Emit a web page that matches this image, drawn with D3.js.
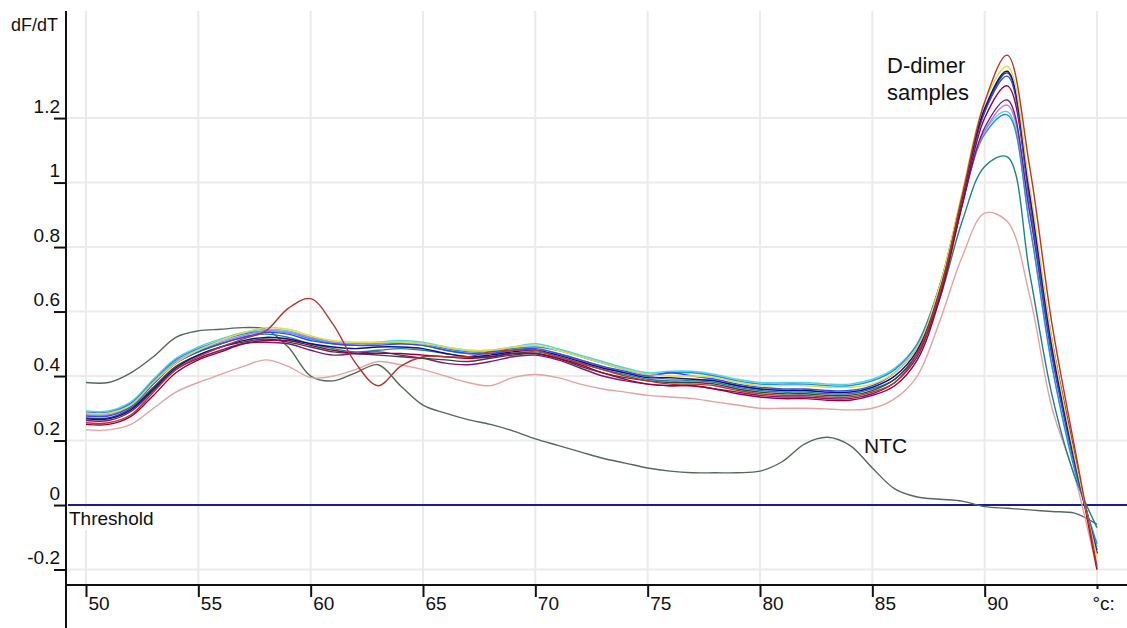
<!DOCTYPE html>
<html>
<head>
<meta charset="utf-8">
<script src="https://cdn.jsdelivr.net/npm/d3@7"></script>
<style>
  body { margin: 0; background: #fff; }
  svg { display: block; font-family: "Liberation Sans", Arial, sans-serif; }
</style>
</head>
<body>
<div id="holder"></div>
<script>
// temperatures (°C) and melt curve values dF/dT
var temps = [50,51,52,53,54,55,56,57,58,59,60,61,62,63,64,65,66,67,68,69,70,71,72,73,74,75,76,77,78,79,80,81,82,83,84,85,86,87,88,89,90,91,92,93,94,95];

var firebrick = [0.255,0.255,0.28,0.35,0.42, 0.46,0.49,0.515,0.54,0.61, 0.64,0.56,0.44,0.37,0.43, 0.46,0.46,0.46,0.475,0.48, 0.48,0.46,0.44,0.42,0.40, 0.385,0.375,0.375,0.37,0.355, 0.345,0.34,0.34,0.335,0.335, 0.35,0.38,0.47,0.66,0.96, 1.25,1.395,1.05,0.56,0.18,-0.19];
var yellow = [0.285,0.285,0.31,0.38,0.44, 0.48,0.51,0.535,0.55,0.545, 0.525,0.51,0.505,0.505,0.505, 0.50,0.49,0.48,0.48,0.49, 0.495,0.48,0.46,0.44,0.42, 0.405,0.40,0.40,0.395,0.38, 0.37,0.37,0.37,0.365,0.365, 0.375,0.41,0.49,0.68,0.97, 1.25,1.36,0.99,0.51,0.15,-0.16];
var navy = [0.267,0.267,0.295,0.36,0.425, 0.465,0.49,0.51,0.52,0.515, 0.50,0.49,0.485,0.49,0.49, 0.485,0.47,0.46,0.465,0.475, 0.48,0.465,0.445,0.425,0.41, 0.395,0.395,0.39,0.385,0.37, 0.36,0.355,0.355,0.35,0.35, 0.365,0.40,0.48,0.67,0.96, 1.23,1.345,0.97,0.49,0.14,-0.15];
var blue = [0.276,0.276,0.305,0.375,0.44, 0.475,0.50,0.52,0.535,0.53, 0.51,0.50,0.495,0.495,0.50, 0.495,0.48,0.47,0.47,0.48, 0.485,0.47,0.45,0.43,0.415, 0.40,0.41,0.40,0.39,0.375, 0.365,0.36,0.36,0.355,0.355, 0.37,0.41,0.49,0.68,0.96, 1.22,1.33,0.94,0.47,0.13,-0.14];
var maroon = [0.25,0.25,0.275,0.34,0.41, 0.45,0.475,0.50,0.51,0.51, 0.495,0.48,0.47,0.47,0.47, 0.465,0.46,0.455,0.46,0.47, 0.47,0.455,0.435,0.41,0.39, 0.375,0.37,0.37,0.36,0.345, 0.335,0.33,0.33,0.325,0.325, 0.34,0.37,0.45,0.64,0.93, 1.20,1.30,0.96,0.51,0.16,-0.20];
var purple = [0.262,0.262,0.29,0.355,0.42, 0.455,0.48,0.50,0.505,0.50, 0.48,0.465,0.47,0.475,0.465, 0.455,0.44,0.435,0.445,0.46, 0.465,0.45,0.425,0.40,0.385, 0.375,0.37,0.37,0.36,0.35, 0.34,0.335,0.335,0.33,0.33, 0.345,0.38,0.46,0.65,0.93, 1.17,1.256,0.91,0.46,0.13,-0.15];
var violet = [0.28,0.28,0.31,0.38,0.445, 0.48,0.505,0.525,0.54,0.535, 0.52,0.505,0.50,0.50,0.50, 0.495,0.48,0.47,0.47,0.48, 0.485,0.47,0.45,0.43,0.41, 0.40,0.39,0.39,0.385,0.37, 0.36,0.355,0.355,0.35,0.35, 0.365,0.40,0.48,0.67,0.94, 1.16,1.24,0.91,0.47,0.13,-0.14];
var skyblue = [0.288,0.288,0.315,0.385,0.45, 0.485,0.51,0.53,0.54,0.535, 0.515,0.50,0.495,0.50,0.505, 0.50,0.485,0.475,0.475,0.485, 0.49,0.48,0.46,0.44,0.42, 0.405,0.41,0.41,0.40,0.385, 0.375,0.375,0.375,0.37,0.37, 0.385,0.42,0.50,0.68,0.94, 1.15,1.21,0.87,0.43,0.11,-0.12];
var cyan = [0.292,0.292,0.32,0.39,0.455, 0.49,0.515,0.535,0.545,0.54, 0.52,0.505,0.50,0.505,0.51, 0.505,0.49,0.48,0.48,0.49, 0.50,0.485,0.465,0.445,0.425, 0.41,0.415,0.415,0.405,0.39, 0.38,0.38,0.38,0.375,0.375, 0.39,0.425,0.50,0.68,0.95, 1.16,1.22,0.87,0.43,0.12,-0.13];
var teal = [0.285,0.285,0.315,0.38,0.44, 0.475,0.50,0.52,0.53,0.52, 0.50,0.485,0.475,0.48,0.485, 0.48,0.47,0.46,0.46,0.47, 0.475,0.46,0.44,0.42,0.405, 0.39,0.385,0.385,0.38,0.365, 0.355,0.35,0.35,0.345,0.345, 0.36,0.39,0.47,0.64,0.88, 1.05,1.08,0.72,0.34,0.09,-0.07];
var slate = [0.27,0.27,0.30,0.365,0.43, 0.465,0.49,0.505,0.515,0.505, 0.49,0.475,0.47,0.465,0.46, 0.455,0.45,0.445,0.455,0.465, 0.47,0.455,0.43,0.41,0.395, 0.385,0.38,0.38,0.375,0.36, 0.35,0.345,0.345,0.34,0.34, 0.355,0.39,0.47,0.66,0.95, 1.22,1.34,0.96,0.48,0.14,-0.15];
var coral = [0.233,0.233,0.25,0.30,0.35, 0.38,0.405,0.43,0.45,0.43, 0.395,0.40,0.42,0.445,0.435, 0.42,0.40,0.38,0.37,0.395, 0.405,0.395,0.375,0.36,0.35, 0.34,0.335,0.33,0.32,0.31, 0.30,0.30,0.30,0.298,0.295, 0.30,0.33,0.40,0.57,0.77, 0.905,0.88,0.65,0.30,0.09,-0.2];
var ntc = [0.38,0.38,0.41,0.46,0.52, 0.54,0.545,0.55,0.545,0.49, 0.40,0.385,0.41,0.435,0.37, 0.31,0.285,0.265,0.25,0.23, 0.205,0.185,0.165,0.145,0.13, 0.115,0.105,0.10,0.10,0.10, 0.105,0.135,0.19,0.21,0.185, 0.115,0.05,0.025,0.018,0.012, -0.005,-0.01,-0.015,-0.02,-0.025,-0.06];

var yTicks = [-0.2,0,0.2,0.4,0.6,0.8,1,1.2];
var yLabels = ["-0.2","0","0.2","0.4","0.6","0.8","1","1.2"];
var xTicks = [50,55,60,65,70,75,80,85,90,95];
var xLabels = ["50","55","60","65","70","75","80","85","90","°c:"];

var series = [
  {values: ntc, color: "#56685a"},
  {values: coral, color: "#e4a2a2"},
  {values: teal, color: "#1a8484"},
  {values: cyan, color: "#4ad6e6"},
  {values: skyblue, color: "#2a90d4"},
  {values: violet, color: "#b67af2"},
  {values: purple, color: "#7c1a7c"},
  {values: slate, color: "#34463f"},
  {values: maroon, color: "#9c0032"},
  {values: blue, color: "#2c4ef2"},
  {values: navy, color: "#10107c"},
  {values: yellow, color: "#e2dc3c"},
  {values: firebrick, color: "#b8342c"}
];

var W = 1127, H = 628;
var svg = d3.select('#holder').append('svg').attr('width', W).attr('height', H);

var x = d3.scaleLinear().domain([50, 95]).range([86, 1097]);
var y = d3.scaleLinear().domain([-0.248, 1.532]).range([585, 11]);
var axisX = 66, axisY = 585;

// grid
svg.append('g').selectAll('line').data(xTicks).join('line')
  .attr('x1', d => x(d)).attr('x2', d => x(d))
  .attr('y1', 11).attr('y2', axisY)
  .style('stroke', '#ebebeb').style('stroke-width', 2);
svg.append('g').selectAll('line').data(yTicks).join('line')
  .attr('x1', axisX).attr('x2', W)
  .attr('y1', d => y(d)).attr('y2', d => y(d))
  .style('stroke', '#ebebeb').style('stroke-width', 2);

// threshold
svg.append('line')
  .attr('x1', 68).attr('x2', W).attr('y1', y(0)).attr('y2', y(0))
  .style('stroke', '#1c1c8e').style('stroke-width', 2);
svg.append('rect').attr('x', 68).attr('y', y(0) + 3).attr('width', 92).attr('height', 22).style('fill', '#fff');
svg.append('text').attr('x', 69).attr('y', y(0) + 20).text('Threshold')
  .style('font-size', '19px').style('fill', '#111');

// curves
var line = d3.line()
  .x((d, i) => x(temps[i]))
  .y(d => y(d))
  .curve(d3.curveCatmullRom);

svg.append('g').selectAll('path').data(series).join('path')
  .attr('d', d => line(d.values))
  .style('fill', 'none')
  .style('stroke', d => d.color)
  .style('stroke-width', 1.4);

// axes
var gy = svg.append('g').attr('transform', 'translate(' + axisX + ',0)')
  .call(d3.axisLeft(y).tickValues(yTicks).tickSize(12).tickFormat((d, i) => yLabels[i]));
gy.select('.domain').remove();
gy.selectAll('line').style('stroke', '#111').style('stroke-width', 2);
gy.selectAll('text').attr('x', -6).attr('y', -6).attr('dy', null)
  .style('font-size', '19px').style('fill', '#111').style('font-family', '"Liberation Sans", Arial, sans-serif');

var gx = svg.append('g').attr('transform', 'translate(0,' + axisY + ')')
  .call(d3.axisBottom(x).tickValues(xTicks).tickSize(12).tickFormat((d, i) => xLabels[i]));
gx.select('.domain').remove();
gx.selectAll('line').style('stroke', '#111').style('stroke-width', 2)
  .attr('y2', d => d === 95 ? 4 : 12);
gx.selectAll('text').attr('x', d => d === 95 ? -5 : 2).attr('y', 25).attr('dy', null)
  .style('text-anchor', 'start')
  .style('font-size', '19px').style('fill', '#111').style('font-family', '"Liberation Sans", Arial, sans-serif');

svg.append('line').attr('x1', axisX).attr('x2', axisX).attr('y1', 11).attr('y2', H)
  .style('stroke', '#111').style('stroke-width', 2);
svg.append('line').attr('x1', axisX).attr('x2', W).attr('y1', axisY).attr('y2', axisY)
  .style('stroke', '#111').style('stroke-width', 2);

svg.append('text').attr('x', 11).attr('y', 31).text('dF/dT')
  .style('font-size', '18px').style('fill', '#111');

// annotations
svg.append('text').attr('x', 887).attr('y', 73).text('D-dimer')
  .style('font-size', '22px').style('fill', '#111');
svg.append('text').attr('x', 887).attr('y', 100).text('samples')
  .style('font-size', '22px').style('fill', '#111');
svg.append('text').attr('x', 864).attr('y', 453).text('NTC')
  .style('font-size', '21px').style('fill', '#111');
</script>
</body>
</html>
